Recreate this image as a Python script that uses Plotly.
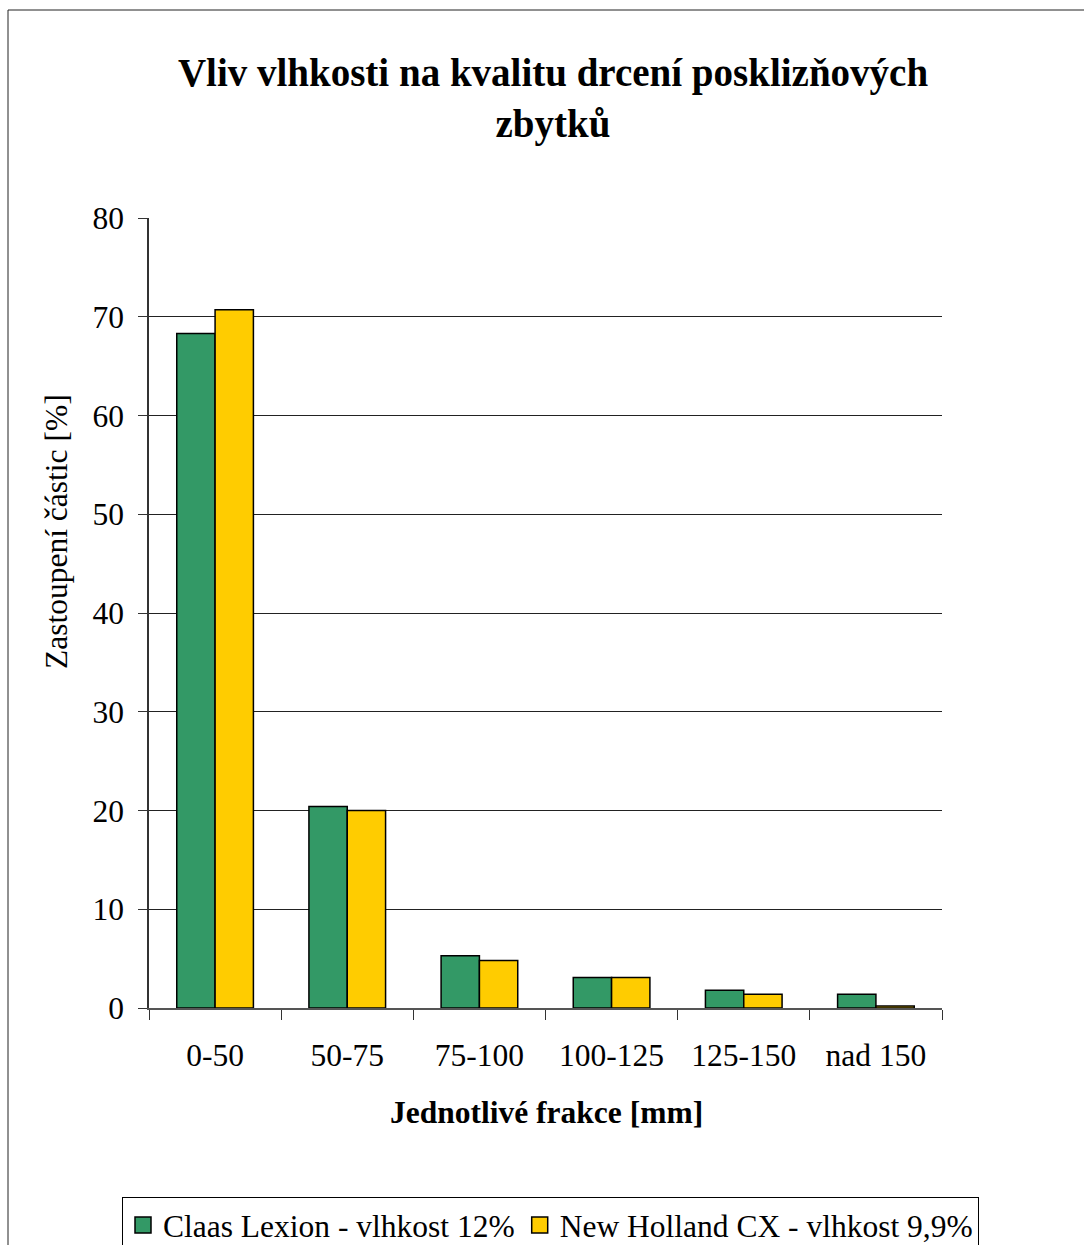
import plotly.graph_objects as go

# Particle size fractions and their share for the two combines
fractions = ["0-50", "50-75", "75-100", "100-125", "125-150", "nad 150"]
claas_lexion = [68.3, 20.4, 5.3, 3.1, 1.8, 1.4]
new_holland = [70.7, 20.0, 4.8, 3.1, 1.4, 0.2]
series_names = ["Claas Lexion - vlhkost 12%", "New Holland CX - vlhkost 9,9%"]
series_colors = ["#339966", "#FFCC00"]
y_ticks = [0, 10, 20, 30, 40, 50, 60, 70, 80]

W, H = 1084, 1245
L, R, T, B = 149, 142, 218, 237
pw, ph = W - L - R, H - T - B

def px_x(x):
    return (x - L) / pw

def px_y(y):
    return (H - B - y) / ph

FONT = "Liberation Serif, Times New Roman, serif"
FS = 31.5

fig = go.Figure()
for vals, name, color in zip([claas_lexion, new_holland], series_names, series_colors):
    fig.add_trace(go.Bar(
        x=fractions, y=vals, name=name, showlegend=False,
        marker=dict(color=color, line=dict(color="black", width=1.5)),
    ))
# legend keys drawn as larger outlined squares
for name, color in zip(series_names, series_colors):
    fig.add_trace(go.Scatter(
        x=[None], y=[None], mode="markers", name=name,
        marker=dict(symbol="square", size=18, color=color,
                    line=dict(color="black", width=1.5)),
    ))

fig.update_layout(
    width=W, height=H,
    margin=dict(l=L, r=R, t=T, b=B, autoexpand=False),
    paper_bgcolor="white", plot_bgcolor="white",
    barmode="group", bargap=0.42, bargroupgap=0,
    font=dict(family=FONT, color="black", size=FS),
    title=dict(
        text="<b>Vliv vlhkosti na kvalitu drcení posklizňových<br>zbytků</b>",
        x=553 / W, xref="container", xanchor="center",
        y=1 - 86 / H, yref="container", yanchor="middle",
        font=dict(family=FONT, size=39, color="black"),
    ),
    showlegend=True,
    legend=dict(
        orientation="h",
        x=px_x(122), xanchor="left",
        y=px_y(1197), yanchor="top",
        bordercolor="black", borderwidth=1,
        font=dict(family=FONT, size=FS, color="black"),
        itemwidth=30,
        traceorder="normal",
    ),
    xaxis=dict(
        type="category",
        showline=True, linecolor="#555", linewidth=1.5,
        ticks="outside", tickson="boundaries", ticklen=10, tickcolor="#333",
        tickfont=dict(family=FONT, size=FS),
        ticklabelstandoff=18,
        showgrid=False,
    ),
    yaxis=dict(
        range=[0, 80], tickvals=y_ticks,
        showline=True, linecolor="#333", linewidth=1.5,
        ticks="outside", ticklen=9, tickcolor="#333",
        tickfont=dict(family=FONT, size=FS),
        ticklabelstandoff=8,
        showgrid=True, gridcolor="#222", gridwidth=1,
        zeroline=False,
    ),
    annotations=[
        dict(text="Zastoupení částic [%]", textangle=-90,
             x=px_x(56), y=px_y(532), xref="paper", yref="paper",
             xanchor="center", yanchor="middle", showarrow=False,
             font=dict(family=FONT, size=FS, color="black")),
        dict(text="<b>Jednotlivé frakce [mm]</b>",
             x=px_x(546), y=px_y(1112), xref="paper", yref="paper",
             xanchor="center", yanchor="middle", showarrow=False,
             font=dict(family=FONT, size=FS, color="black")),
    ],
    shapes=[
        dict(type="rect", xref="paper", yref="paper",
             x0=px_x(8), x1=px_x(1095), y0=px_y(1260), y1=px_y(10),
             line=dict(color="#222", width=1), fillcolor="rgba(0,0,0,0)",
             layer="below"),
    ],
)

fig.write_html("out.html")
